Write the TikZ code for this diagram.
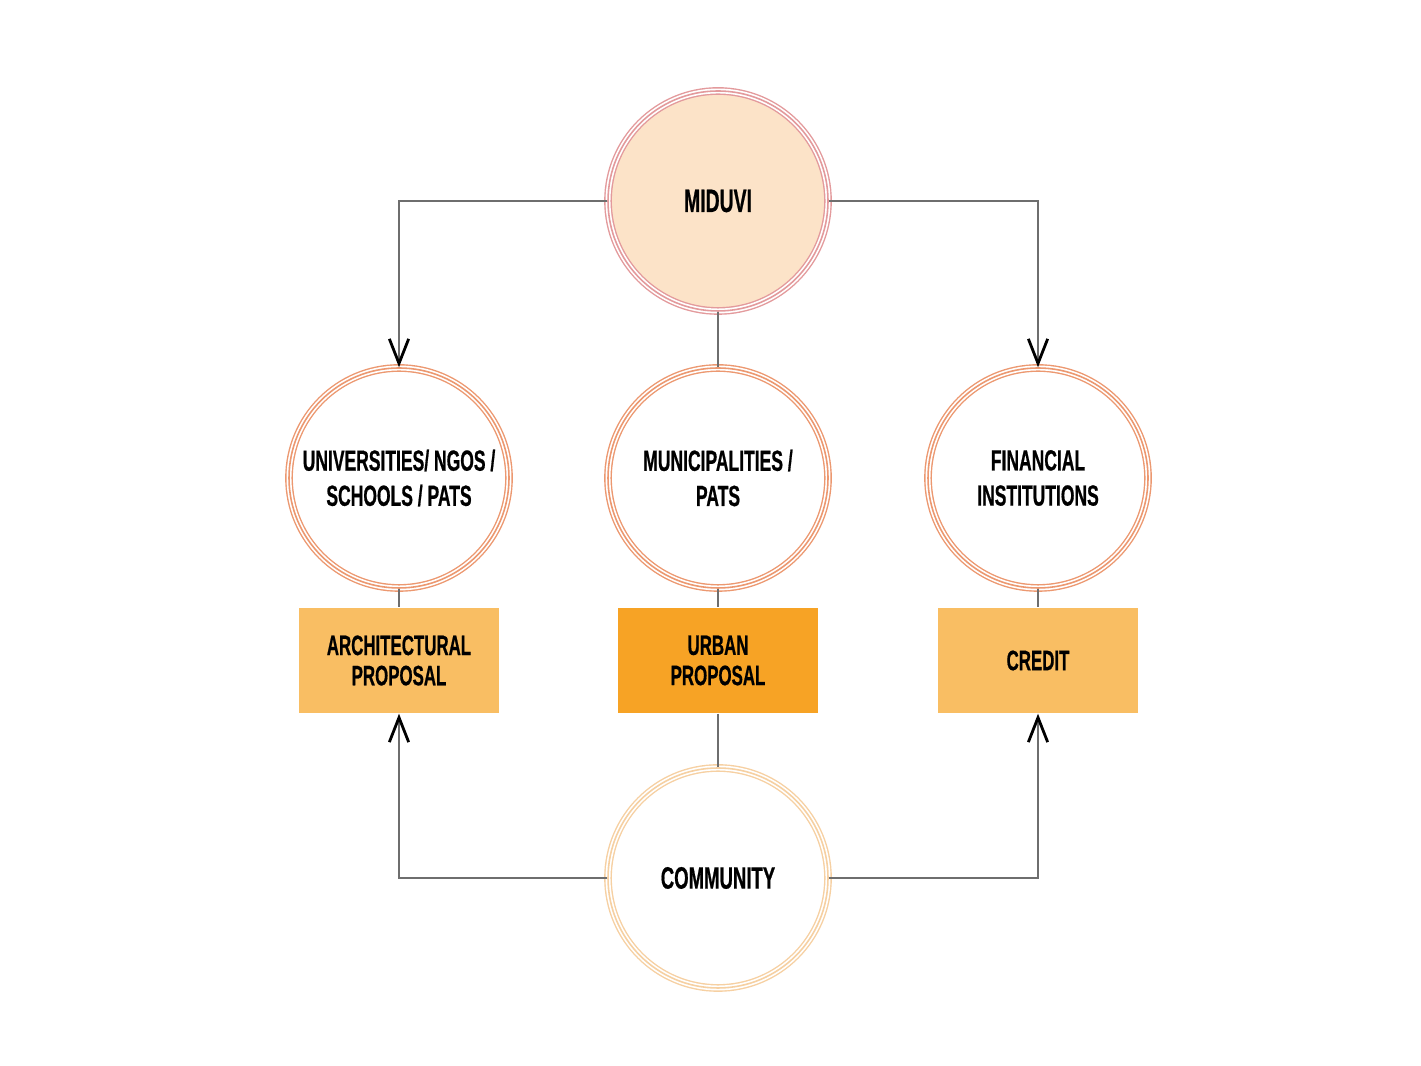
\documentclass[tikz,border=0pt]{standalone}
\usepackage{fontspec}
\usetikzlibrary{arrows.meta}
\newfontfamily\condfont{Liberation Sans}[FakeStretch=0.6, FakeBold=0.6]
\definecolor{linegray}{HTML}{6E6E6E}
\definecolor{miduvifill}{HTML}{FCE3C8}
\definecolor{miduviring}{HTML}{E39A9C}
\definecolor{actorring}{HTML}{EC9870}
\definecolor{commring}{HTML}{F6D0A2}
\definecolor{boxlight}{HTML}{F9BE63}
\definecolor{boxdark}{HTML}{F7A325}
\begin{document}
\begin{tikzpicture}[
    ring/.style={circle, minimum size=2.2cm, inner sep=0pt, align=center, draw=#1, line width=0.4pt,
      double=white, double distance=1.4pt, postaction={draw=#1, line width=0.45pt},
      font=\condfont\bfseries\fontsize{8.3}{10}\selectfont},
    prop/.style={rectangle, minimum width=2cm, minimum height=1.05cm, inner sep=0pt, align=center,
      fill=#1, font=\condfont\bfseries\fontsize{8}{8.6}\selectfont},
    link/.style={draw=linegray, line width=0.6pt},
    arr/.style={link, -{Straight Barb[length=7pt, width=5.5pt, line width=0.8pt, black]}}]
    \useasboundingbox (0,0) rectangle (14.21,10.66);
    \node[ring=miduviring, fill=miduvifill, font=\condfont\bfseries\fontsize{9.2}{11}\selectfont] (miduvi) at (7.18,8.65) {MIDUVI};
    \node[ring=actorring] (univ) at (3.99,5.88) {UNIVERSITIES/ NGOS /\\SCHOOLS / PATS};
    \node[ring=actorring] (muni) at (7.18,5.88) {MUNICIPALITIES /\\PATS};
    \node[ring=actorring] (fin) at (10.38,5.88) {FINANCIAL\\INSTITUTIONS};
    \node[prop=boxlight] (archi) at (3.99,4.055) {ARCHITECTURAL\\PROPOSAL};
    \node[prop=boxdark] (urban) at (7.18,4.055) {URBAN\\PROPOSAL};
    \node[prop=boxlight] (credit) at (10.38,4.055) {CREDIT};
    \node[ring=commring, font=\condfont\bfseries\fontsize{8.8}{11}\selectfont] (comm) at (7.18,1.88) {COMMUNITY};
    \draw[arr] (miduvi.west) -| (univ.north);
    \draw[arr] (miduvi.east) -| (fin.north);
    \draw[link] (miduvi.south) -- (muni.north);
    \draw[link] (univ.south) -- (archi.north);
    \draw[link] (muni.south) -- (urban.north);
    \draw[link] (fin.south) -- (credit.north);
    \draw[link] (urban.south) -- (comm.north);
    \draw[arr] (comm.west) -| (archi.south);
    \draw[arr] (comm.east) -| (credit.south);
  \end{tikzpicture}
\end{document}
